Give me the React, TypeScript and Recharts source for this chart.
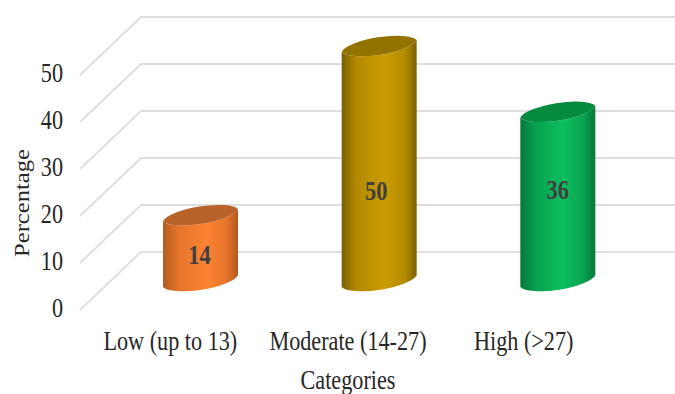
import React from "react";
import { BarChart, Bar, XAxis, YAxis, CartesianGrid, LabelList, Label } from "recharts";

const categories = ["Low (up to 13)", "Moderate (14-27)", "High (>27)"];
const percentages = [14, 50, 36];
const yTicks = [0, 10, 20, 30, 40, 50];

const rows = categories.map((category, i) => ({ category, percentage: percentages[i] }));

// Per-cylinder shading: dark rim, mid tone, lit centre, cap tone.
const shades = [
  { rim: "#b35a1f", mid: "#e5742b", lit: "#fc8332", cap: "#b9622a" },
  { rim: "#7a5f00", mid: "#b38b00", lit: "#cb9c00", cap: "#937300" },
  { rim: "#05773a", mid: "#08a04f", lit: "#0cc05f", cap: "#068a40" },
];
// Hand-placed data labels sit off the bar's centre.
const labelShift = [
  { dx: -1, dy: 7 },
  { dx: -3, dy: 27 },
  { dx: 0, dy: -7 },
];
const tickShift = [0, -1, -4];

const FONT = "'Liberation Serif', serif";
const INK = "#404040";
const TEXT = "#262626";
const DEPTH_X = 31;
const DEPTH_Y = 29;
const TILT = 6;
const CAP_RY = 10.5;

// Tall, slightly condensed serif lettering used across the chart.
function TallText(props: any) {
  const { x, y, rotate = 0, sx = 1, sy = 1.2, children, size = 22.2, weight = 400, fill = TEXT, anchor = "middle" } = props;
  return (
    <text
      transform={`translate(${x},${y}) rotate(${rotate}) scale(${sx},${sy})`}
      textAnchor={anchor}
      dominantBaseline="central"
      fontFamily={FONT}
      fontSize={size}
      fontWeight={weight}
      fill={fill}
    >
      {children}
    </text>
  );
}

// One gridline of the 3D floor: a diagonal side wall and a straight back wall.
function WallLine(props: any) {
  const { x1, x2, y1 } = props;
  const d = `M${x1 - DEPTH_X},${y1 + DEPTH_Y} L${x1 + DEPTH_X - 1},${y1 - DEPTH_Y} L${x2 + 29},${y1 - DEPTH_Y}`;
  return <path d={d} fill="none" stroke="#dedede" strokeWidth={1.8} />;
}

// Bar drawn as an upright tilted cylinder.
function Cylinder(props: any) {
  const { x, y, width, height, index } = props;
  const shade = shades[index];
  const id = `cyl-${index}`;
  const a = width / 2 + 1;
  const r = x + width;
  const bottom = y + height;
  const body = `M${x},${y + TILT} L${x},${bottom + TILT} A${a} ${CAP_RY} -9 0 0 ${r},${bottom - TILT} L${r},${y - TILT} A${a} ${CAP_RY} -9 0 1 ${x},${y + TILT} Z`;
  const cap = `M${x},${y + TILT} A${a} ${CAP_RY} -9 0 1 ${r},${y - TILT} A${a} ${CAP_RY} -9 0 1 ${x},${y + TILT} Z`;
  return (
    <g>
      <defs>
        <linearGradient id={id} x1="0" x2="1" y1="0" y2="0">
          <stop offset="0" stopColor={shade.rim} />
          <stop offset="0.2" stopColor={shade.mid} />
          <stop offset="0.58" stopColor={shade.lit} />
          <stop offset="0.85" stopColor={shade.mid} />
          <stop offset="1" stopColor={shade.rim} />
        </linearGradient>
      </defs>
      <path d={body} fill={`url(#${id})`} />
      <path d={cap} fill={shade.cap} />
    </g>
  );
}

function ValueLabel(props: any) {
  const { x, y, width, height, value, index } = props;
  const s = labelShift[index];
  return (
    <TallText x={x + width / 2 + s.dx} y={y + height / 2 + s.dy} size={22.5} weight={700} fill={INK}>
      {value}
    </TallText>
  );
}

function YTick(props: any) {
  const { y, payload } = props;
  return (
    <TallText x={63} y={y + 27} anchor="end">
      {payload.value}
    </TallText>
  );
}

function XTick(props: any) {
  const { x, y, payload, index } = props;
  return (
    <TallText x={x - 30 + tickShift[index]} y={y + 52}>
      {payload.value}
    </TallText>
  );
}

function CategoriesTitle(props: any) {
  const { x, y, width, height } = props.viewBox;
  return (
    <TallText x={x + width / 2 - 31} y={y + height - 14}>
      Categories
    </TallText>
  );
}

function PercentageTitle(props: any) {
  const { y, height } = props.viewBox;
  return (
    <TallText x={22} y={y + height / 2 + 39.5} rotate={-90} size={20.5} sx={1.2} sy={1}>
      Percentage
    </TallText>
  );
}

export default function App() {
  return (
    <div style={{ position: "absolute", left: 0, top: 0, width: 675, height: 394, overflow: "hidden", background: "#fff" }}>
      <BarChart
        width={675}
        height={394}
        data={rows}
        margin={{ top: 46, right: 28, bottom: 0, left: 0 }}
        barSize={75}
      >
        <CartesianGrid vertical={false} horizontal={(p: any) => <WallLine key={p.index} {...p} />} />
        <XAxis dataKey="category" height={113} axisLine={false} tickLine={false} interval={0} tick={<XTick />}>
          <Label content={<CategoriesTitle />} />
        </XAxis>
        <YAxis
          width={111}
          domain={[0, 50]}
          ticks={yTicks}
          axisLine={false}
          tickLine={false}
          tick={<YTick />}
        >
          <Label content={<PercentageTitle />} />
        </YAxis>
        <Bar dataKey="percentage" shape={<Cylinder />} isAnimationActive={false}>
          <LabelList dataKey="percentage" content={<ValueLabel />} />
        </Bar>
      </BarChart>
    </div>
  );
}
